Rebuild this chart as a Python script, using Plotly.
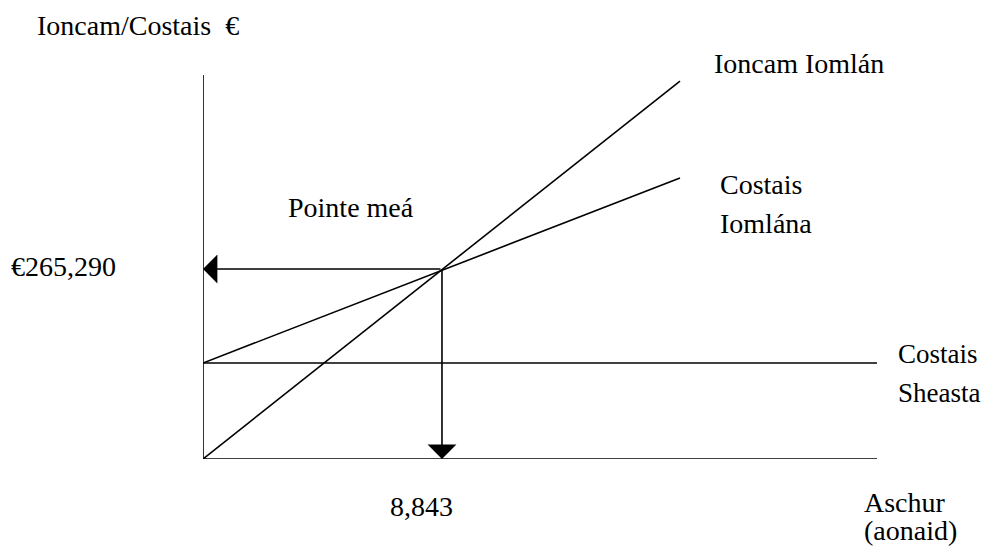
import plotly.graph_objects as go

# ---- data ----
output_units = [0, 17650]          # Aschur (aonaid) at the ends of the drawn lines
total_revenue = [0, 527800]        # Ioncam Iomlán
total_cost = [134000, 392400]      # Costais Iomlána
fixed_cost = 134000                # Costais Sheasta
x_max = 24940                      # end of horizontal axis
y_max = 536200                     # top of vertical axis
break_even_units = 8843
break_even_value = 265290

OFF = 8                             # page body margin
W, H = 993 - 2 * OFF, 555 - 2 * OFF
PW, PH = 674, 384
L, T = 203 - OFF, 75 - OFF
R, B = W - L - PW, H - T - PH

def px(x, y):
    # page pixel -> paper coordinates
    return (x - OFF - L) / PW, (T + PH - (y - OFF)) / PH

FONT = dict(family="Liberation Serif, Times New Roman, serif", size=28, color="black")
LINE = dict(color="black", width=1.6)

fig = go.Figure()
# axes
fig.add_trace(go.Scatter(x=[0, 0], y=[0, y_max], mode="lines", line=LINE, hoverinfo="skip"))
fig.add_trace(go.Scatter(x=[0, x_max], y=[0, 0], mode="lines", line=LINE, hoverinfo="skip"))
# fixed cost
fig.add_trace(go.Scatter(x=[0, x_max], y=[fixed_cost, fixed_cost], mode="lines", line=LINE, hoverinfo="skip"))
# total revenue
fig.add_trace(go.Scatter(x=output_units, y=total_revenue, mode="lines", line=LINE, hoverinfo="skip"))
# total cost
fig.add_trace(go.Scatter(x=output_units, y=total_cost, mode="lines", line=LINE, hoverinfo="skip"))

# arrows from break-even point
arrow_common = dict(showarrow=True, arrowhead=1, arrowsize=3.0, arrowwidth=1.6,
                    arrowcolor="black", axref="x", ayref="y", xref="x", yref="y",
                    text="", standoff=0, startstandoff=0)
fig.add_annotation(x=0, y=break_even_value, ax=break_even_units, ay=break_even_value, **arrow_common)
fig.add_annotation(x=break_even_units, y=0, ax=break_even_units, ay=break_even_value, **arrow_common)

def label(text, x, y, anchor="left", size=28):
    xp, yp = px(x, y)
    fig.add_annotation(x=xp, y=yp, xref="paper", yref="paper", text=text, showarrow=False,
                       xanchor=anchor, yanchor="middle", font=dict(FONT, size=size),
                       borderpad=0)

label("Ioncam/Costais\u00a0\u00a0€", 36, 25.5)
label("Ioncam Iomlán", 713, 63.5)
label("Costais", 719, 184.5)
label("Iomlána", 719, 223.5)
label("Pointe meá", 287, 207.5)
label("€{:,}".format(break_even_value), 10, 266.5)
label("Costais", 897, 353.5, size=27)
label("Sheasta", 897, 392.5, size=27)
label("{:,}".format(break_even_units), 421, 506.5, anchor="center")
label("Aschur", 863, 502.5)
label("(aonaid)", 863, 530.5)

fig.update_layout(
    width=W, height=H, margin=dict(l=L, r=R, t=T, b=B),
    paper_bgcolor="white", plot_bgcolor="white", showlegend=False,
    xaxis=dict(range=[0, x_max], visible=False, fixedrange=True),
    yaxis=dict(range=[0, y_max], visible=False, fixedrange=True),
)
fig.write_html("out.html")
